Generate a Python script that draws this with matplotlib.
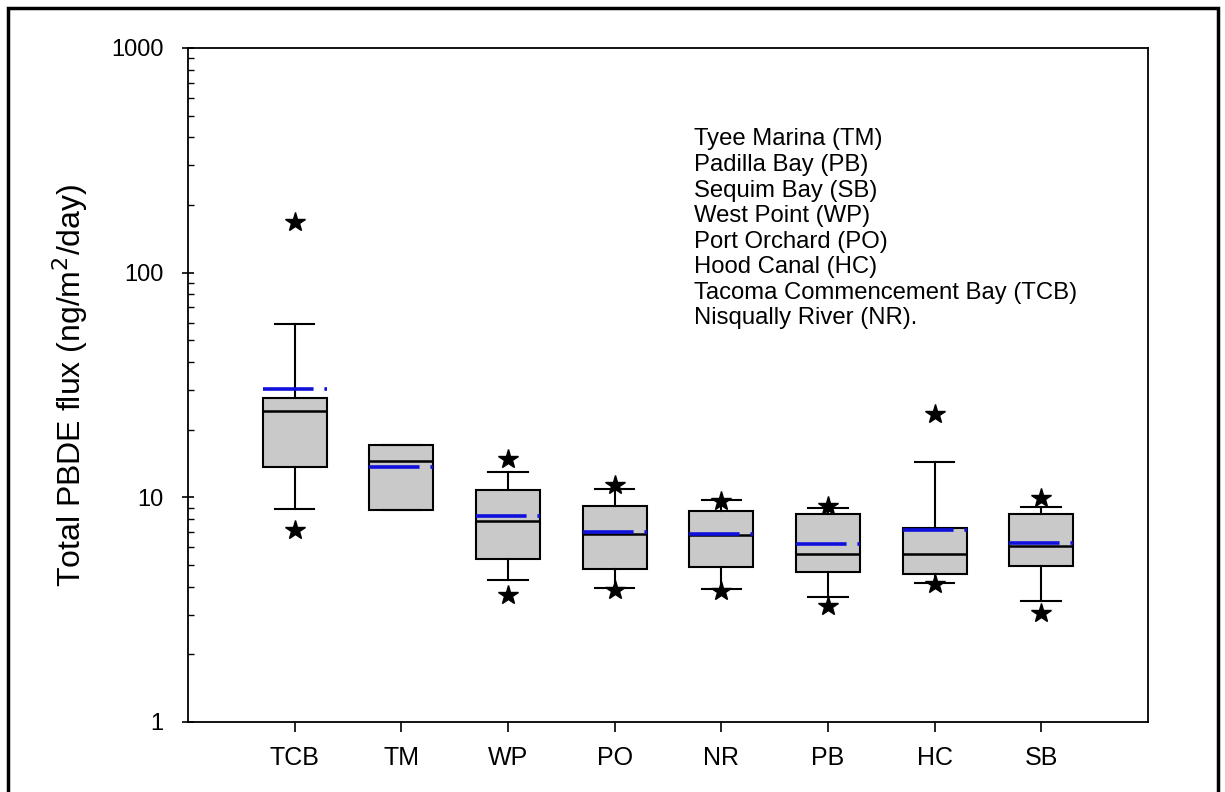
import matplotlib
matplotlib.use("Agg")
import matplotlib.pyplot as plt
from matplotlib.patches import Rectangle

plt.rcParams['font.family'] = ['Liberation Sans', 'DejaVu Sans']

# data
sites = ['TCB', 'TM', 'WP', 'PO', 'NR', 'PB', 'HC', 'SB']
q1 = [13.6, 8.8, 5.3, 4.8, 4.9, 4.67, 4.56, 4.95]
q3 = [27.6, 17.1, 10.8, 9.15, 8.7, 8.4, 7.3, 8.4]
medians = [24.3, 14.5, 7.85, 6.9, 6.8, 5.6, 5.6, 6.1]
means = [30.3, 13.6, 8.25, 7.0, 6.85, 6.2, 7.15, 6.25]
whis_lo = [8.9, 8.8, 4.3, 3.95, 3.9, 3.6, 4.15, 3.45]
whis_hi = [59.0, 17.1, 13.0, 10.9, 9.7, 9.0, 14.4, 9.05]
out_lo = [7.15, None, 3.67, 3.87, 3.83, 3.28, 4.11, 3.05]
out_hi = [168.0, None, 14.8, 11.3, 9.66, 9.15, 23.5, 9.9]

legend_lines = ["Tyee Marina (TM)", "Padilla Bay (PB)", "Sequim Bay (SB)",
                "West Point (WP)", "Port Orchard (PO)", "Hood Canal (HC)",
                "Tacoma Commencement Bay (TCB)", "Nisqually River (NR)."]

stats = []
for i in range(len(sites)):
    fl = [v for v in (out_lo[i], out_hi[i]) if v is not None]
    stats.append(dict(label=sites[i], q1=q1[i], q3=q3[i], med=medians[i],
                      mean=means[i], whislo=whis_lo[i], whishi=whis_hi[i],
                      fliers=fl))

fig = plt.figure(figsize=(12.25, 7.92), dpi=100)
ax = fig.add_axes([0.1535, 0.0884, 0.7835, 0.851])

ax.bxp(stats, positions=range(1, 9), widths=0.6, patch_artist=True,
       showmeans=True, meanline=True,
       boxprops=dict(facecolor='#c9c9c9', edgecolor='black', linewidth=1.5),
       medianprops=dict(color='black', linewidth=1.8),
       meanprops=dict(color='#1010dd', linewidth=2.6, linestyle=(0, (14, 3, 4, 3))),
       whiskerprops=dict(color='black', linewidth=1.5),
       capprops=dict(color='black', linewidth=1.5),
       capwidths=0.37,
       flierprops=dict(marker='*', markerfacecolor='black', markeredgecolor='black',
                       markersize=15, linestyle='none'))

ax.set_yscale('log')
ax.set_ylim(1, 1000)
ax.set_xlim(0, 9)
ax.set_xticks(range(1, 9))
ax.set_xticklabels(sites, fontsize=18)
ax.set_yticks([1, 10, 100, 1000])
ax.set_yticklabels(['1', '10', '100', '1000'], fontsize=17)
ax.tick_params(axis='y', which='major', direction='inout', length=9, width=1.2, pad=13)
ax.tick_params(axis='y', which='minor', direction='in', length=4, width=1)
ax.tick_params(axis='x', direction='out', length=7, width=1.2, pad=10)
ax.tick_params(top=False, right=False, which='both')
for s in ax.spines.values():
    s.set_linewidth(1.3)

ax.set_ylabel("Total PBDE flux (ng/m$^2$/day)", fontsize=23)
ax.yaxis.set_label_coords(-0.102, 0.5)

ax.text(0.527, 0.8806, "\n".join(legend_lines), transform=ax.transAxes,
        fontsize=17.2, va='top', ha='left', linespacing=1.21)

fig.patches.append(Rectangle((8 / 1225, -0.05), 1210 / 1225, 1.05 - 8 / 792,
                             transform=fig.transFigure, fill=False,
                             edgecolor='black', linewidth=2.5))

plt.savefig('out.png', dpi=100)
